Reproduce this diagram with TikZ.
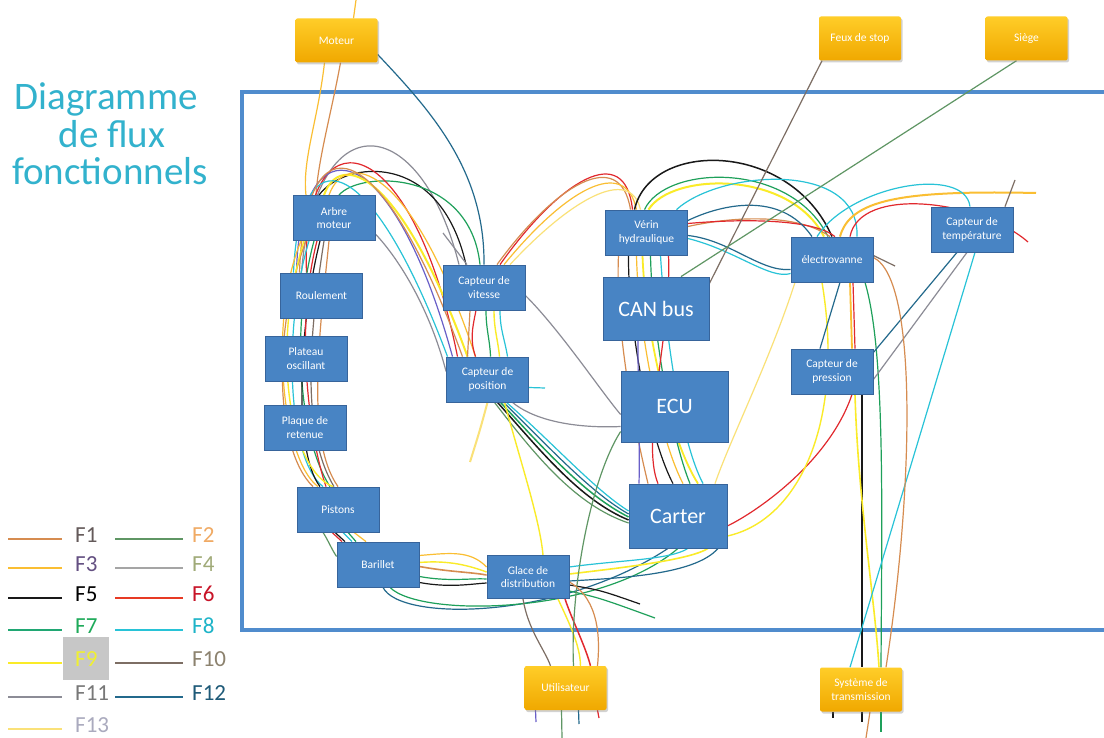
\documentclass[tikz,border=0pt]{standalone}
\usepackage{fontspec}
\setmainfont{Carlito}
\usetikzlibrary{backgrounds,shadows}
\definecolor{c1}{RGB}{214,140,80}
\definecolor{c2}{RGB}{95,150,100}
\definecolor{c3}{RGB}{250,190,50}
\definecolor{c4}{RGB}{165,165,165}
\definecolor{c5}{RGB}{25,25,25}
\definecolor{c6}{RGB}{225,40,45}
\definecolor{c7}{RGB}{30,160,90}
\definecolor{c8}{RGB}{40,195,215}
\definecolor{c9}{RGB}{250,235,40}
\definecolor{c10}{RGB}{125,110,100}
\definecolor{c11}{RGB}{140,140,150}
\definecolor{c12}{RGB}{35,105,140}
\definecolor{c13}{RGB}{250,225,120}
\definecolor{cvio}{RGB}{105,95,200}
\definecolor{boxblue}{RGB}{72,132,196}
\definecolor{boxedge}{RGB}{55,100,155}
\definecolor{framec}{RGB}{80,140,205}
\definecolor{titlec}{RGB}{50,178,205}
\definecolor{ytop}{RGB}{255,205,40}
\definecolor{ybot}{RGB}{240,168,0}
\definecolor{t1}{RGB}{100,90,90}
\definecolor{t2}{RGB}{240,170,100}
\definecolor{t3}{RGB}{100,80,130}
\definecolor{t4}{RGB}{160,170,120}
\definecolor{t6}{RGB}{200,20,40}
\definecolor{t7}{RGB}{30,170,90}
\definecolor{t8}{RGB}{30,180,200}
\definecolor{t9}{RGB}{240,240,50}
\definecolor{t10}{RGB}{140,130,110}
\definecolor{t11}{RGB}{120,120,120}
\definecolor{t12}{RGB}{30,90,120}
\definecolor{t13}{RGB}{170,170,190}
\begin{document}
\begin{tikzpicture}[x=1pt,y=-1pt,
  bx/.style={draw=boxedge,line width=0.8pt,fill=boxblue,text=white,align=center,inner sep=0pt,
    minimum width=82pt,minimum height=45pt,font=\fontsize{11.5}{13.5}\selectfont},
  big/.style={bx,font=\fontsize{22}{24}\selectfont},
  yb/.style={rounded corners=2pt,top color=ytop,bottom color=ybot,draw=none,text=white,align=center,
    inner sep=0pt,minimum width=82pt,minimum height=44pt,font=\fontsize{11.5}{13.5}\selectfont,
    drop shadow={shadow xshift=1.5pt,shadow yshift=-2pt,opacity=0.35}},
  f1/.style={draw=c1,line width=1.2pt},
  f2/.style={draw=c2,line width=1.2pt},
  f3/.style={draw=c3,line width=1.2pt},
  f4/.style={draw=c4,line width=1.2pt},
  f5/.style={draw=c5,line width=1.2pt},
  f6/.style={draw=c6,line width=1.2pt},
  f7/.style={draw=c7,line width=1.2pt},
  f8/.style={draw=c8,line width=1.2pt},
  f9/.style={draw=c9,line width=1.4pt},
  f10/.style={draw=c10,line width=1.2pt},
  f11/.style={draw=c11,line width=1.2pt},
  f12/.style={draw=c12,line width=1.2pt},
  f13/.style={draw=c13,line width=1.2pt},
  fvio/.style={draw=cvio,line width=1.2pt},
  lab/.style={anchor=west,inner sep=0pt,font=\fontsize{23}{25}\selectfont},
  ttl/.style={anchor=base,text=titlec,inner sep=0pt,font=\fontsize{39}{42}\selectfont},
  lg/.style={line width=1.3pt}
]
\useasboundingbox (0,0) rectangle (1104,738);

% title
\node[ttl] (ti1) at (106,110) {Diagramme};
\node[ttl] (ti2) at (112,148) {de flux};
\node[ttl] (ti3) at (110,185) {fonctionnels};

% nodes
\node[yb] (mo) at (336.5,40.5) {Moteur};
\node[yb] (fs) at (860,38.5) {Feux de stop};
\node[yb] (si) at (1026.5,38.5) {Siège};
\node[yb] (ut) at (565.5,688) {Utilisateur};
\node[yb] (st) at (861,689.5) {Système de\\transmission};

\node[bx] (am) at (334,218) {Arbre\\moteur};
\node[bx] (ro) at (321.5,295.5) {Roulement};
\node[bx] (po) at (306,358.5) {Plateau\\oscillant};
\node[bx] (pr) at (305,427.5) {Plaque de\\retenue};
\node[bx] (pi) at (338,509.5) {Pistons};
\node[bx] (ba) at (378,564.5) {Barillet};
\node[bx,minimum height=43pt] (gd) at (528,577) {Glace de\\distribution};
\node[bx] (cv) at (484,287.5) {Capteur de\\vitesse};
\node[bx] (cp) at (487.5,379.5) {Capteur de\\position};
\node[bx] (vh) at (646.5,232.5) {Vérin\\hydraulique};
\node[big,minimum width=106pt,minimum height=63pt] (can) at (656,308.5) {CAN bus};
\node[big,minimum width=107pt,minimum height=71pt] (ecu) at (674.5,406.5) {ECU};
\node[big,minimum width=98pt,minimum height=64pt] (ca) at (678,516) {Carter};
\node[bx] (ev) at (832,259.5) {électrovanne};
\node[bx] (cpr) at (832,371.5) {Capteur de\\pression};
\node[bx] (ct) at (972,229.5) {Capteur de\\température};

% free ends
\coordinate (mtop) at (356,0);
\coordinate (gs) at (443,233);
\coordinate (cs) at (545,388);
\coordinate (redend) at (1028,242);
\coordinate (yend) at (1036,193);
\coordinate (gend) at (1015,180);
\coordinate (tanend) at (895,266);
\coordinate (bl1) at (640,604);
\coordinate (gn1) at (655,618);
\coordinate (ys) at (470,462);
\coordinate (ub1) at (536,722);
\coordinate (ub2) at (562,738);
\coordinate (ub3) at (579,724);
\coordinate (ub4) at (599,718);
\coordinate (sb1) at (833,718);
\coordinate (sb2) at (862,722);
\coordinate (sb3) at (866,738);
\coordinate (sb4) at (881,732);

\begin{pgfonlayer}{background}
\fill[white] (0,0) rectangle (1104,738);
% frame
\draw[framec,line width=4pt] (1104,92) -- (242,92) -- (242,630) -- (1104,630);

% Moteur links
\draw[f3] ([xshift=17]mo.north) -- (mtop);
\draw[f3] ([xshift=-12]mo.south) .. controls (318,120) and (302,160) .. ([xshift=-28]am.north);
\draw[f1] ([xshift=4]mo.south) .. controls (332,110) and (318,160) .. ([xshift=-18]am.north);
\draw[f12] ([yshift=-14]mo.east) .. controls (430,110) and (485,170) .. (cv.north);

% arcs from left column to the sensors
\draw[f11] ([xshift=-20]ro.north) .. controls (315,100) and (420,110) .. ([xshift=-25]cv.north);
\draw[f5] ([xshift=-15]am.north) .. controls (345,160) and (440,150) .. ([xshift=-18]cv.north);
\draw[f7] ([xshift=5]am.north) .. controls (360,170) and (470,170) .. ([xshift=-4]cv.north);
\draw[f6] ([xshift=-15]ro.north) .. controls (300,110) and (410,120) .. ([xshift=-30]cp.north);
\draw[fvio] ([xshift=-25]ro.north) .. controls (300,120) and (390,130) .. ([xshift=-35]cp.north);
\draw[f9,line width=2pt] ([xshift=-10]am.north) .. controls (340,150) and (400,170) .. ([xshift=-20]cp.north);
\draw[f3] ([xshift=-5]am.north) .. controls (345,150) and (410,160) .. ([xshift=-12]cp.north);
\draw[f8] ([xshift=-28]ro.north) .. controls (300,130) and (370,150) .. ([xshift=-40]cp.north);
\draw[f1] ([xshift=-22]ro.north) .. controls (305,115) and (380,130) .. ([xshift=-25]cp.north);
\draw[f11] ([yshift=-16]am.east) .. controls (400,260) and (430,310) .. ([yshift=8]cp.west);
\draw[f11] (gs) -- ([xshift=-17]cv.north);

% left column
\draw[f1] ([xshift=-28]am.south) .. controls (272,330) and (275,450) .. ([xshift=-25]pi.north);
\draw[f3] ([xshift=-33]am.south) .. controls (268,320) and (282,460) .. ([xshift=-20]pi.north);
\draw[f7] ([xshift=-20]am.south) .. controls (290,330) and (300,440) .. ([xshift=-8]pi.north);
\draw[f8] ([xshift=-25]am.south) .. controls (282,330) and (288,460) .. ([xshift=-15]pi.north);
\draw[f5] ([xshift=-14]am.south) .. controls (300,320) and (292,450) .. ([xshift=-18]pi.north);
\draw[f6] ([xshift=-17]am.south) .. controls (294,330) and (310,440) .. ([xshift=-12]pi.north);
\draw[f10] ([xshift=-10]am.south) .. controls (310,330) and (300,430) .. ([xshift=-4]pi.north);
\draw[f9] ([xshift=-30]am.south) .. controls (270,350) and (290,470) .. ([xshift=-5]pi.north);
\draw[f1] ([xshift=-5]am.south) .. controls (320,330) and (305,440) .. (pi.north);

% Pistons - Barillet
\draw[f2] ([xshift=-15]pi.south) .. controls (328,540) and (332,550) .. ([yshift=8]ba.west);
\draw[f6] ([xshift=-6]pi.south) -- ([xshift=-36]ba.north);
\draw[f5] ([xshift=-3]pi.south) -- ([xshift=-33]ba.north);
\draw[f8] ([xshift=5]pi.south) -- ([xshift=-26]ba.north);
\draw[f7] ([xshift=10]pi.south) -- ([xshift=-22]ba.north);
\draw[f3] ([xshift=16]pi.south) -- ([xshift=-12]ba.north);

% vitesse - position
\draw[f1] ([xshift=-14]cv.south) -- ([xshift=-20]cp.north);
\draw[f6] ([xshift=-8]cv.south) .. controls (472,330) and (470,340) .. ([xshift=-12]cp.north);
\draw[f7] ([xshift=2]cv.south) .. controls (486,330) and (490,340) .. ([xshift=3]cp.north);
\draw[f9] ([xshift=10]cv.south) .. controls (494,330) and (498,340) .. ([xshift=12]cp.north);
\draw[f8] ([xshift=16]cv.south) .. controls (500,330) and (505,340) .. ([xshift=20]cp.north);
\draw[f8] ([yshift=-8]cp.east) -- (cs);

% vitesse - verin
\draw[f6] ([xshift=16]cv.north) .. controls (560,180) and (625,140) .. ([xshift=-14]vh.north);
\draw[f1] ([xshift=13]cv.north) .. controls (555,185) and (620,145) .. ([xshift=-16]vh.north);
\draw[f3] ([xshift=20]cv.north) .. controls (565,190) and (625,155) .. ([xshift=-10]vh.north);
\draw[f13] ([xshift=26]cv.north) .. controls (570,200) and (630,165) .. ([xshift=-6]vh.north);

% verin - electrovanne
\draw[f5,line width=1.5pt] ([xshift=-12]vh.north) .. controls (650,140) and (790,140) .. (ev.north);
\draw[f7] ([xshift=-2]vh.north) .. controls (665,165) and (790,160) .. ([xshift=-4]ev.north);
\draw[f9,line width=2pt] ([xshift=2]vh.north) .. controls (672,172) and (790,170) .. ([xshift=-8]ev.north);
\draw[f8] ([xshift=30]vh.north) .. controls (720,170) and (860,160) .. ([xshift=25]ev.north);
\draw[f1] ([yshift=6]vh.east) .. controls (740,215) and (800,215) .. ([xshift=-2]ev.north);
\draw[f6] ([yshift=9]vh.east) .. controls (750,218) and (815,220) .. ([xshift=3]ev.north);
\draw[f12] ([yshift=-3]vh.east) .. controls (730,240) and (760,272) .. ([yshift=-10]ev.west);
\draw[f8] ([yshift=-6]vh.east) .. controls (735,250) and (770,280) .. ([yshift=-14]ev.west);
\draw[f12] ([yshift=12]vh.east) .. controls (720,205) and (780,190) .. ([xshift=-20]ev.north);

% electrovanne - temperature
\draw[f6] ([xshift=18]ev.north) .. controls (860,185) and (980,200) .. (redend);
\draw[f3,line width=2pt] ([xshift=8]ev.north) .. controls (850,200) and (900,190) .. (yend);
\draw[f8] ([xshift=-15]ev.north) .. controls (850,185) and (965,165) .. ([xshift=-2]ct.north);
\draw[f10] ([xshift=33]ct.north) -- (gend);
\draw[f10] ([yshift=4]ev.east) -- (tanend);

% right side down to transmission
\draw[f5] ([xshift=30]cpr.south) -- ([xshift=1]st.north);
\draw[f9,line width=1.6pt] ([xshift=23]cpr.south) .. controls (858,500) and (875,600) .. ([xshift=18]st.north);
\draw[f7] ([xshift=33]ev.south) .. controls (885,350) and (882,500) .. ([xshift=20]st.north);
\draw[f8] ([xshift=3]ct.south) -- ([xshift=-11]st.north);
\draw[f12] ([xshift=-15]ct.south) -- ([yshift=19]cpr.east);
\draw[f11] ([xshift=-5]ct.south) -- ([yshift=-8]cpr.east);
\draw[f1] ([yshift=2]ev.east) .. controls (920,280) and (912,500) .. ([xshift=25]st.north);
\draw[f6] ([xshift=20]cpr.south) .. controls (830,460) and (760,510) .. ([yshift=-10]ca.east);
\draw[f9] ([xshift=-10]ev.south) .. controls (845,420) and (800,520) .. ([yshift=-20]ca.east);
\draw[f12] ([xshift=8]ev.south) -- ([xshift=-12]cpr.north);
\draw[f3,line width=1.8pt] ([xshift=18]ev.south) -- ([xshift=20]cpr.north);
\draw[f6] ([xshift=21]ev.south) -- ([xshift=23]cpr.north);
\draw[f13] ([xshift=-37]ev.south) .. controls (770,360) and (730,440) .. ([xshift=37]ca.north);

% Feux de stop, Siege
\draw[f10] ([xshift=-38]fs.south) -- ([yshift=25]can.east);
\draw[f2] ([xshift=-10]si.south) -- ([xshift=25]can.north);

% vertical bundle Verin - CAN - ECU - Carter
\draw[f1] ([xshift=-28]vh.south) .. controls (615,330) and (635,430) .. ([xshift=-30]ca.north);
\draw[f5] ([xshift=-18]vh.south) .. controls (628,330) and (650,440) .. ([xshift=-5]ca.north);
\draw[f3] ([xshift=-10]vh.south) .. controls (638,330) and (660,440) .. ([xshift=5]ca.north);
\draw[f9,line width=1.8pt] ([xshift=-4]vh.south) .. controls (645,330) and (670,440) .. ([xshift=20]ca.north);
\draw[f7] ([xshift=4]vh.south) .. controls (652,330) and (672,440) .. ([xshift=12]ca.north);
\draw[f8] ([xshift=14]vh.south) .. controls (665,330) and (680,440) .. ([xshift=25]ca.north);
\draw[f6] ([xshift=22]vh.south) .. controls (672,330) and (640,440) .. ([xshift=-20]ca.north);
\draw[fvio] ([xshift=-18]can.south) .. controls (638,400) and (640,450) .. ([xshift=-39]ca.north);

% position - carter bundle
\draw[f2] ([xshift=7]cp.south) .. controls (535,455) and (575,505) .. ([yshift=-7]ca.west);
\draw[f5,line width=1.5pt] ([xshift=10]cp.south) .. controls (540,450) and (580,500) .. ([yshift=-4]ca.west);
\draw[f7,line width=1.5pt] ([xshift=13]cp.south) .. controls (545,450) and (585,495) .. ([yshift=-1]ca.west);
\draw[f12] ([xshift=16]cp.south) .. controls (550,448) and (590,492) .. ([yshift=2]ca.west);
\draw[f8] ([xshift=19]cp.south) .. controls (555,445) and (595,490) .. ([yshift=5]ca.west);

% grey lines to ECU
\draw[f11] ([xshift=25]cp.south) .. controls (540,425) and (590,428) .. ([yshift=-20]ecu.west);
\draw[f11] ([yshift=-8]cv.east) .. controls (560,330) and (600,390) .. ([yshift=-8]ecu.west);

% Barillet - Glace
\draw[f3] ([yshift=9]ba.east) .. controls (450,553) and (470,550) .. ([yshift=10]gd.west);
\draw[f9] ([yshift=2]ba.east) .. controls (450,560) and (470,566) .. ([yshift=5]gd.west);
\draw[f1,line width=1.6pt] ([yshift=-2]ba.east) .. controls (450,572) and (470,572) .. ([yshift=2]gd.west);
\draw[f7] ([yshift=-12]ba.east) .. controls (450,582) and (470,578) .. ([yshift=-2]gd.west);
\draw[f5] ([yshift=-18]ba.east) .. controls (450,588) and (470,584) .. ([yshift=-6]gd.west);
\draw[f12] ([xshift=5]ba.south) .. controls (400,622) and (560,620) .. ([xshift=-10]ca.south);
\draw[f7] ([xshift=12]ba.south) .. controls (420,618) and (600,615) .. (ca.south);

% Glace - Carter
\draw[f8] ([yshift=10]gd.east) .. controls (620,560) and (670,560) .. ([xshift=10]ca.south);
\draw[f9,line width=1.6pt] ([yshift=3]gd.east) .. controls (620,568) and (690,560) .. ([xshift=30]ca.south);
\draw[f12] ([yshift=-4]gd.east) .. controls (620,578) and (695,575) .. ([xshift=40]ca.south);
\draw[f5] ([yshift=-8]gd.east) .. controls (600,590) .. (bl1);
\draw[f7] ([yshift=-14]gd.east) .. controls (600,598) .. (gn1);

% Glace - Utilisateur
\draw[f6,line width=1.5pt] ([xshift=37]gd.south) .. controls (572,620) and (585,645) .. ([xshift=25]ut.north);
\draw[f9] ([xshift=30]gd.south) .. controls (570,625) and (580,645) .. ([xshift=15]ut.north);
\draw[f10] ([xshift=-5]gd.south) .. controls (528,630) and (545,650) .. ([xshift=-15]ut.north);
\draw[f2] ([yshift=-25]ecu.west) .. controls (590,480) and (570,590) .. ([xshift=8]ut.north);
\draw[f1] ([yshift=-5]gd.east) .. controls (600,600) and (600,640) .. ([xshift=32]ut.north);
\draw[f9] ([xshift=17]cp.south) .. controls (520,460) and (540,520) .. ([xshift=15]gd.north);
\draw[f13,line width=2pt] (cp.south) .. controls (480,430) .. (ys);

% stubs below
\draw[fvio] ([xshift=-30]ut.south) -- (ub1);
\draw[f2] ([xshift=-4]ut.south) -- (ub2);
\draw[f12] ([xshift=13]ut.south) -- (ub3);
\draw[f6] ([xshift=32]ut.south) -- (ub4);
\draw[f5] ([xshift=-28]st.south) -- (sb1);
\draw[f5] ([xshift=1]st.south) -- (sb2);
\draw[f1] ([xshift=9]st.south) -- (sb3);
\draw[f7] ([xshift=20]st.south) -- (sb4);
\end{pgfonlayer}

% legend
\node[fill=black!22,minimum width=46pt,minimum height=43pt,inner sep=0pt] (f9box) at (86,658.5) {};
\node[lab,text=t1] (l1) at (75,535) {F1};
\node[lab,text=t2] (l2) at (192,535) {F2};
\node[lab,text=t3] (l3) at (75,564) {F3};
\node[lab,text=t4] (l4) at (192,564) {F4};
\node[lab,text=black] (l5) at (75,594) {F5};
\node[lab,text=t6] (l6) at (192,594) {F6};
\node[lab,text=t7] (l7) at (75,626) {F7};
\node[lab,text=t8] (l8) at (192,626) {F8};
\node[lab,text=t9] (l9) at (75,659) {F9};
\node[lab,text=t10] (l10) at (192,659) {F10};
\node[lab,text=t11] (l11) at (75,693) {F11};
\node[lab,text=t12] (l12) at (192,693) {F12};
\node[lab,text=t13] (l13) at (75,725) {F13};
\draw[lg,c1] (8,539) -- (62,539);   \draw[lg,c2] (115,539) -- (183,539);
\draw[lg,c3] (8,568) -- (62,568);   \draw[lg,c4] (115,568) -- (183,568);
\draw[lg,c5] (8,598) -- (62,598);   \draw[lg,c6!80!orange] (115,598) -- (183,598);
\draw[lg,c7!80!c8] (8,630) -- (62,630);   \draw[lg,c8] (115,630) -- (183,630);
\draw[lg,c9] (8,663) -- (62,663);   \draw[lg,c10] (115,663) -- (183,663);
\draw[lg,c11] (8,697) -- (62,697);  \draw[lg,c12] (115,697) -- (183,697);
\draw[lg,c13] (8,729) -- (62,729);
\end{tikzpicture}
\end{document}
